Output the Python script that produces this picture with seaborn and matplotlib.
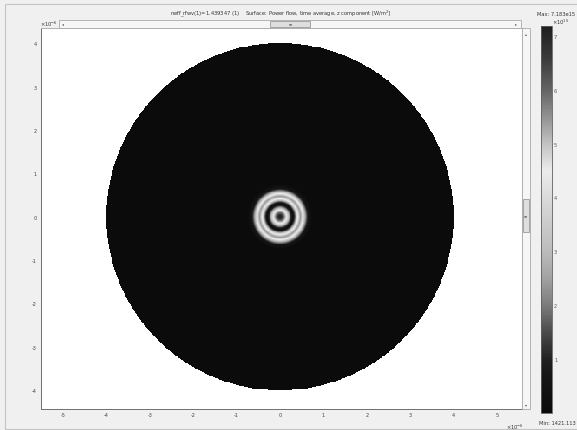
import numpy as np
import pandas as pd
import matplotlib
matplotlib.use("Agg")
import matplotlib.pyplot as plt
from matplotlib.colors import LinearSegmentedColormap
from matplotlib.patches import Rectangle
import seaborn as sns

# ---- data -------------------------------------------------------------
# Radial profile of the guided mode: radius [um] and z-Poynting [1e15 W/m^2]
mode_r_um = [0.00, 0.04, 0.08, 0.12, 0.155, 0.20, 0.25, 0.30,
             0.35, 0.41, 0.47, 0.53, 0.58, 0.65, 0.75]
mode_sz_e15 = [7.18, 6.9, 6.2, 5.2, 4.5, 3.0, 1.2, 0.1,
               1.8, 4.5, 5.4, 4.5, 2.6, 0.6, 0.0]
clad_radius_um = 4.0
s_min = 1421.113          # W/m^2
s_max = 7.183e15          # W/m^2
x_ticks = [-5, -4, -3, -2, -1, 0, 1, 2, 3, 4, 5]
y_ticks = [-4, -3, -2, -1, 0, 1, 2, 3, 4]
cbar_ticks = [1, 2, 3, 4, 5, 6, 7]
title = ("neff_rfwv(1)=1.439347 (1)    Surface: Power flow, time average, "
         "z component [W/m$^2$]")

# ---- layout helpers (pixel geometry of a 577x431 canvas) ----------------
W, H = 577, 431
sns.set_theme(style="white")
plt.rcParams["font.family"] = ["DejaVu Sans"]

fig = plt.figure(figsize=(W / 100, H / 100), dpi=100)
fig.patch.set_facecolor("#f0f0f0")


def fx(px):
    return px / W


def fy(py):
    return 1 - py / H


def frame(x0, y0, x1, y1, face, edge, lw=0.6, z=1):
    fig.add_artist(Rectangle((fx(x0), fy(y1)), fx(x1) - fx(x0), fy(y0) - fy(y1),
                             transform=fig.transFigure, facecolor=face,
                             edgecolor=edge, linewidth=lw, zorder=z))


# outer panel border
frame(4.5, 4.5, 590, 429.5, "none", "#c4c4c4", lw=0.8, z=0)

# plot area
ax_l, ax_r, ax_t, ax_b = 40.5, 521.5, 29.0, 410.0
ax = fig.add_axes([fx(ax_l), fy(ax_b), fx(ax_r) - fx(ax_l), fy(ax_t) - fy(ax_b)])
ax.set_facecolor("white")
cax = fig.add_axes([fx(540.7), fy(414), fx(552) - fx(540.7), fy(27) - fy(414)])

# ---- field on a square grid covering the cladding -----------------------
step = 0.02
n = int(round(2 * clad_radius_um / step))
xc = -clad_radius_um + step * (np.arange(n) + 0.5)
yc = xc[::-1]
XX, YY = np.meshgrid(xc, yc)
RR = np.hypot(XX, YY)
field = np.interp(RR, mode_r_um, mode_sz_e15)
df = pd.DataFrame(field, index=np.round(yc, 3), columns=np.round(xc, 3))
mask = RR > clad_radius_um

stops = [(0.0, "#0b0b0b"), (0.7, "#171717"), (1.0, "#222222"), (1.5, "#4c4c4c"),
         (2.0, "#7c7c7c"), (2.5, "#a2a2a2"), (3.0, "#bcbcbc"), (4.0, "#dadada"),
         (4.5, "#ececec"), (5.0, "#c2c2c2"), (5.5, "#929292"), (6.0, "#646464"),
         (6.6, "#3a3a3a"), (7.183, "#1f1f1f")]
cmap = LinearSegmentedColormap.from_list(
    "wavegray", [(v / 7.183, c) for v, c in stops])

sns.heatmap(df, mask=mask, cmap=cmap, vmin=s_min / 1e15, vmax=s_max / 1e15,
            ax=ax, cbar_ax=cax, xticklabels=False, yticklabels=False,
            rasterized=True)

# data limits: 43.4 px per micrometre, origin at pixel (280, 217.7)
ppu = 43.4
x_lo = (ax_l - 280) / ppu
x_hi = (ax_r - 280) / ppu
y_hi = (217.7 - ax_t) / ppu
y_lo = (217.7 - ax_b) / ppu


def col_idx(v):
    return (v + clad_radius_um) / step


def row_idx(v):
    return (clad_radius_um - v) / step


ax.set_xlim(col_idx(x_lo), col_idx(x_hi))
ax.set_ylim(row_idx(y_lo), row_idx(y_hi))
ax.set_xticks([col_idx(v) for v in x_ticks])
ax.set_xticklabels([str(v) for v in x_ticks])
ax.set_yticks([row_idx(v) for v in y_ticks])
ax.set_yticklabels([str(v) for v in y_ticks], rotation=0)
ax.tick_params(axis="both", length=0, labelsize=3.6, colors="#444444", pad=2.5)
ax.set_xlabel("")
ax.set_ylabel("")
for side, sp in ax.spines.items():
    sp.set_visible(True)
    sp.set_linewidth(0.7)
    sp.set_color("#707070" if side in ("left", "bottom") else "#b0b0b0")

# colour bar
cax.set_yticks(cbar_ticks)
cax.set_yticklabels([str(t) for t in cbar_ticks])
cax.tick_params(axis="y", direction="in", left=True, right=True, length=2.0,
                width=0.5, colors="#555555", labelsize=3.6, pad=1.5)
cbar = ax.collections[0].colorbar
cbar.outline.set_visible(True)
cbar.outline.set_edgecolor("#606060")
cbar.outline.set_linewidth(0.6)

# ---- scroll bars -------------------------------------------------------
frame(59, 20.5, 521, 28.5, "#f6f6f6", "#a8a8a8")
frame(270, 21.5, 310, 27.5, "#dedede", "#9a9a9a", z=2)
frame(521.5, 29, 529.5, 410, "#f6f6f6", "#a8a8a8")
frame(522.5, 200, 528.5, 233, "#dedede", "#9a9a9a", z=2)
tk = dict(fontsize=2.8, color="#555555", ha="center", va="center")
fig.text(fx(63), fy(24.5), "◂", **tk)
fig.text(fx(516), fy(24.5), "▸", **tk)
fig.text(fx(290), fy(24.5), "≡", **tk)
fig.text(fx(525.5), fy(34), "▴", **tk)
fig.text(fx(525.5), fy(405), "▾", **tk)
fig.text(fx(525.5), fy(216.5), "≡", **tk)

# ---- texts ---------------------------------------------------------------
txt = dict(fontsize=3.7, color="#333333")
fig.text(fx(281), fy(14), title, ha="center", va="center", **txt)
fig.text(fx(537), fy(14), "Max: 7.183e15", ha="left", va="center", **txt)
fig.text(fx(552), fy(22), r"$\times10^{15}$", ha="left", va="center", **txt)
fig.text(fx(539), fy(424), "Min: 1421.113", ha="left", va="center", **txt)
fig.text(fx(40), fy(24), r"$\times10^{-6}$", ha="left", va="center", **txt)
fig.text(fx(506), fy(427), r"$\times10^{-6}$", ha="left", va="center", **txt)

fig.savefig("out.png", dpi=100, facecolor=fig.get_facecolor())
